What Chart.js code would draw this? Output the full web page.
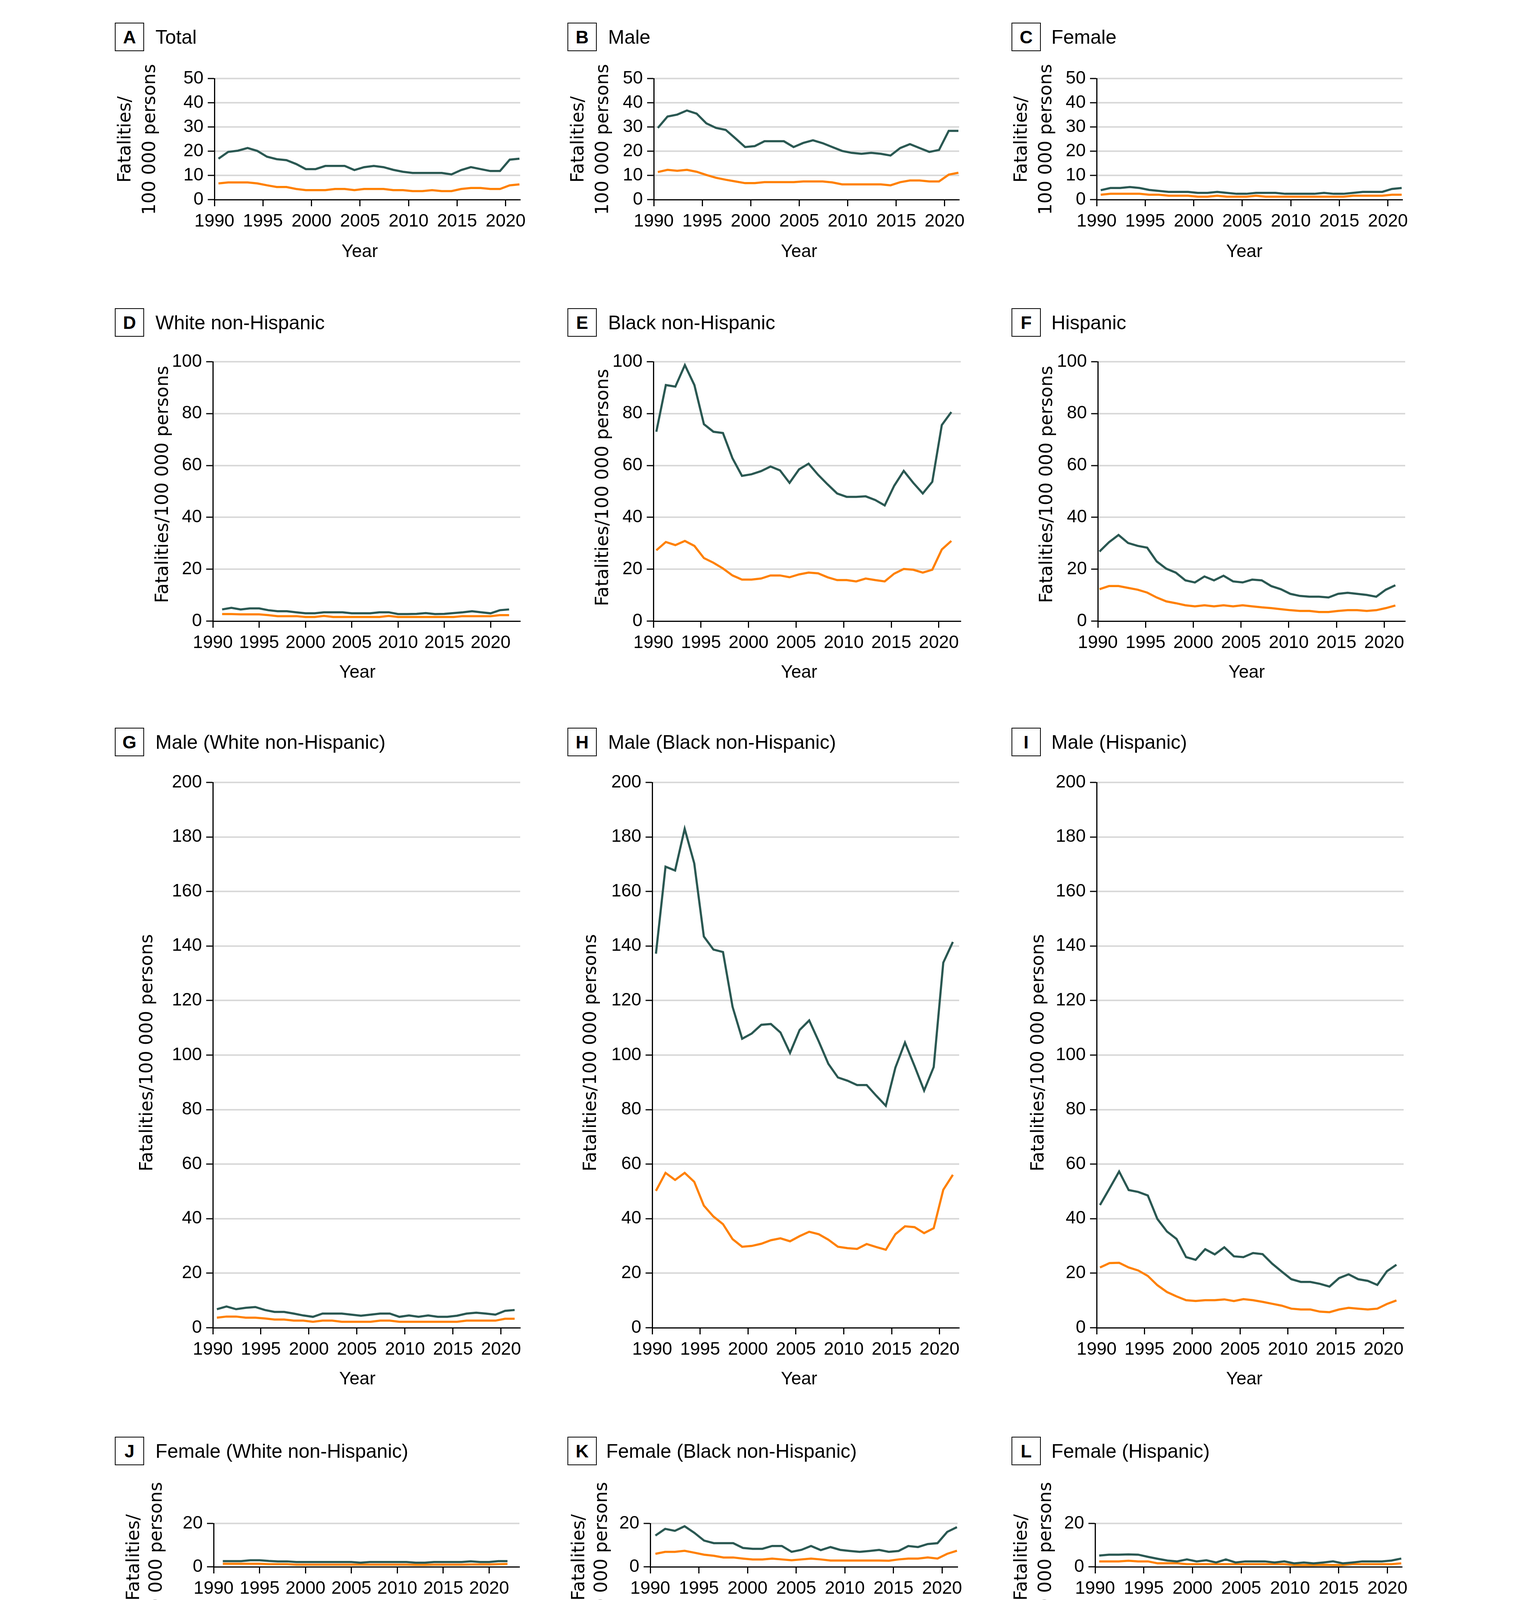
<!DOCTYPE html>
<html>
<head>
<meta charset="utf-8">
<script src="https://cdn.jsdelivr.net/npm/chart.js@4.4.0/dist/chart.umd.min.js"></script>
<style>
html,body{margin:0;padding:0;background:#fff;}
#page{position:relative;width:3892px;height:4799px;overflow:hidden;background:#fff;}
#page canvas{position:absolute;}
.box{position:absolute;box-sizing:border-box;width:75px;height:73px;border:2.5px solid #000;font-family:"Liberation Sans",Arial,sans-serif;font-weight:bold;font-size:46px;display:flex;align-items:center;justify-content:center;color:#000;}
.ttl{position:absolute;height:73px;display:flex;align-items:center;font-family:"Liberation Sans",Arial,sans-serif;font-size:50px;color:#000;white-space:nowrap;}
#legend{position:absolute;left:2602px;top:4503px;width:571px;height:150px;box-sizing:border-box;border:2.5px solid #000;}
.lg-line{position:absolute;left:31px;width:62px;height:5px;}
.lg-text{position:absolute;left:123px;font-family:"Liberation Sans",Arial,sans-serif;font-size:46px;color:#000;white-space:nowrap;line-height:56px;}
</style>
</head>
<body>
<div id="page"></div>
<script>
// ---------------- DATA ----------------
const years = [1990,1991,1992,1993,1994,1995,1996,1997,1998,1999,2000,2001,2002,2003,2004,2005,2006,2007,2008,2009,2010,2011,2012,2013,2014,2015,2016,2017,2018,2019,2020,2021];
const yearsMetro = [1999,2000,2001,2002,2003,2004,2005,2006,2007,2008,2009,2010,2011,2012,2013,2014,2015,2016,2017,2018,2019,2020];

const seriesNames = ['Maximum crude rate','Mean crude rate'];

const totalMax = [16.9,19.7,20.2,21.3,20.1,17.7,16.7,16.3,14.7,12.6,12.6,13.9,13.9,13.9,12.2,13.4,13.9,13.4,12.3,11.5,11.0,11.0,11.0,11.0,10.4,12.2,13.4,12.6,11.8,11.8,16.5,16.9];
const totalMean = [6.7,7.1,7.1,7.1,6.7,5.9,5.2,5.2,4.4,3.9,3.9,3.9,4.4,4.4,3.9,4.4,4.4,4.4,3.9,3.9,3.5,3.5,3.9,3.5,3.5,4.4,4.8,4.8,4.4,4.4,5.9,6.3];

const maleMax = [29.6,34.3,35.1,36.8,35.5,31.5,29.6,28.8,25.3,21.7,22.1,24.1,24.1,24.1,21.7,23.4,24.5,23.3,21.7,20.1,19.3,18.9,19.3,18.9,18.2,21.3,22.9,21.3,19.7,20.5,28.4,28.4];
const maleMean = [11.4,12.3,11.9,12.3,11.5,10.2,9.0,8.2,7.5,6.8,6.8,7.2,7.2,7.2,7.2,7.5,7.5,7.5,7.1,6.3,6.3,6.3,6.3,6.3,5.9,7.2,7.9,7.9,7.5,7.5,10.3,11.1];

const femaleMax = [3.9,4.8,4.8,5.2,4.8,4.0,3.6,3.2,3.2,3.2,2.8,2.8,3.2,2.8,2.4,2.4,2.8,2.8,2.8,2.4,2.4,2.4,2.4,2.8,2.4,2.4,2.8,3.2,3.2,3.2,4.4,4.8];
const femaleMean = [2.0,2.4,2.4,2.4,2.4,2.0,2.0,1.6,1.6,1.6,1.2,1.2,1.6,1.2,1.2,1.2,1.6,1.2,1.2,1.2,1.2,1.2,1.2,1.2,1.2,1.2,1.6,1.6,1.6,1.6,2.0,2.0];

const whiteMax = [4.5,5.1,4.5,4.9,4.9,4.2,3.8,3.8,3.4,3.0,3.0,3.4,3.4,3.4,3.0,3.0,3.0,3.4,3.4,2.7,2.7,2.8,3.1,2.7,2.8,3.1,3.4,3.8,3.4,3.0,4.2,4.5];
const whiteMean = [2.7,2.7,2.6,2.6,2.6,2.3,1.9,1.9,1.9,1.6,1.6,2.0,1.6,1.6,1.6,1.6,1.6,1.6,2.0,1.6,1.6,1.6,1.6,1.6,1.6,1.6,1.9,1.9,1.9,1.9,2.3,2.3];

const blackMax = [73.0,91.0,90.4,98.7,91.0,75.9,73.0,72.5,62.8,56.0,56.6,57.8,59.6,58.1,53.3,58.5,60.7,56.4,52.7,49.2,47.9,47.9,48.1,46.7,44.6,52.2,57.9,53.3,49.2,53.7,75.6,80.6];
const blackMean = [27.3,30.5,29.3,30.9,29.0,24.3,22.5,20.3,17.6,16.0,16.0,16.4,17.6,17.6,16.9,18.0,18.7,18.4,16.9,15.8,15.8,15.3,16.4,15.8,15.3,18.3,20.1,19.8,18.7,19.8,27.6,30.9];

const hispMax = [26.8,30.4,33.2,30.1,29.0,28.3,23.0,20.2,18.7,15.7,14.9,17.2,15.7,17.5,15.3,14.9,16.0,15.7,13.5,12.3,10.5,9.7,9.4,9.4,9.1,10.5,10.9,10.5,10.1,9.4,12.1,13.8];
const hispMean = [12.3,13.5,13.5,12.8,12.1,11.0,9.1,7.6,6.9,6.1,5.7,6.1,5.7,6.1,5.7,6.1,5.7,5.3,5.0,4.6,4.2,3.9,3.9,3.5,3.5,3.9,4.2,4.2,3.9,4.2,5.0,6.0];

const maleWhiteMax = [6.8,7.8,6.8,7.3,7.6,6.5,5.8,5.8,5.2,4.5,4.0,5.2,5.2,5.2,4.8,4.4,4.8,5.2,5.2,4.0,4.5,4.0,4.5,4.0,4.0,4.4,5.2,5.5,5.2,4.8,6.2,6.5];
const maleWhiteMean = [3.7,4.1,4.1,3.7,3.7,3.4,3.0,3.0,2.6,2.6,2.2,2.6,2.6,2.2,2.2,2.2,2.2,2.6,2.6,2.2,2.2,2.2,2.2,2.2,2.2,2.2,2.6,2.6,2.6,2.6,3.3,3.3];

const maleBlackMax = [137.2,169.1,167.7,183.0,170.3,143.5,138.7,137.8,117.7,106.0,107.9,111.1,111.4,108.3,100.8,109.2,112.7,105.0,96.8,91.8,90.6,89.0,89.0,85.1,81.4,95.4,104.6,96.0,87.0,95.6,133.9,141.5];
const maleBlackMean = [50.2,56.8,54.2,56.8,53.5,44.8,40.8,38.0,32.5,29.7,30.0,30.8,32.1,32.8,31.7,33.6,35.2,34.3,32.3,29.7,29.2,28.9,30.7,29.6,28.6,34.3,37.2,36.9,34.7,36.5,50.6,56.1];

const maleHispMax = [45.0,51.1,57.3,50.5,49.8,48.5,39.9,35.3,32.6,25.9,24.9,28.8,26.9,29.5,26.2,25.9,27.4,27.0,23.5,20.6,17.8,16.8,16.8,16.1,15.1,18.2,19.6,17.8,17.2,15.7,20.7,23.1];
const maleHispMean = [22.1,23.7,23.8,22.1,21.0,19.0,15.6,13.1,11.5,10.1,9.8,10.1,10.1,10.4,9.8,10.5,10.1,9.5,8.8,8.1,7.0,6.7,6.7,5.9,5.7,6.7,7.3,7.0,6.7,7.0,8.7,10.0];

const femWhiteMax = [2.6,2.6,2.6,3.0,3.0,2.7,2.5,2.5,2.2,2.2,2.2,2.2,2.2,2.2,2.2,1.9,2.2,2.2,2.2,2.2,2.2,1.9,1.9,2.2,2.2,2.2,2.2,2.5,2.2,2.2,2.6,2.6];
const femWhiteMean = [1.4,1.4,1.4,1.4,1.4,1.2,1.2,1.2,1.0,1.0,1.0,1.0,1.0,1.0,1.0,1.0,1.0,1.0,1.0,1.0,1.0,0.9,0.9,1.0,1.0,1.0,1.0,1.1,1.1,1.1,1.2,1.3];

const femBlackMax = [14.4,17.5,16.6,18.7,15.7,12.1,10.9,10.9,10.9,8.7,8.3,8.3,9.6,9.6,6.9,7.8,9.6,7.7,9.1,7.8,7.3,6.9,7.3,7.8,6.9,7.3,9.6,9.1,10.5,10.9,16.1,18.3];
const femBlackMean = [6.0,6.9,6.9,7.4,6.5,5.6,5.1,4.3,4.3,3.8,3.4,3.4,3.8,3.4,3.0,3.4,3.8,3.4,2.9,2.9,2.9,2.9,2.9,2.9,2.8,3.4,3.8,3.8,4.3,3.8,6.0,7.4];

const femHispMax = [5.2,5.6,5.6,5.7,5.6,4.6,3.7,2.9,2.5,3.4,2.5,3.0,2.0,3.4,2.0,2.5,2.5,2.5,2.0,2.5,1.6,2.0,1.6,2.0,2.5,1.6,2.0,2.5,2.5,2.5,2.9,3.8];
const femHispMean = [2.5,2.5,2.5,2.8,2.5,2.5,1.6,1.6,1.6,1.2,1.2,1.2,1.2,1.2,1.2,1.2,1.2,1.2,1.2,1.2,0.8,0.8,0.8,0.9,0.8,0.8,1.2,1.2,1.2,1.2,1.2,1.6];

const metroMax = [13.4,13.4,14.4,14.9,14.9,13.4,14.4,14.9,14.5,13.4,12.1,11.7,11.3,11.8,11.8,11.0,13.2,14.0,13.1,12.4,17.5,17.5];
const metroMean = [4.3,3.7,4.3,4.3,4.3,4.3,4.8,4.8,4.3,3.8,3.8,3.8,3.8,3.8,3.8,3.5,4.3,4.8,4.8,4.3,6.2,6.7];

const nonmetroMax = [6.3,6.3,7.3,6.3,6.3,6.8,5.6,5.9,6.3,6.3,6.8,6.3,6.3,6.3,5.9,5.4,7.3,7.4,8.0,9.0,11.4,11.5];
const nonmetroMean = [2.4,3.0,2.6,2.6,2.6,2.6,2.6,2.6,2.6,2.6,2.6,2.6,2.6,2.6,2.6,2.6,3.1,3.4,3.4,3.4,4.8,4.8];

const yTicks50 = [0,10,20,30,40,50];
const yTicks100 = [0,20,40,60,80,100];
const yTicks200 = [0,20,40,60,80,100,120,140,160,180,200];
const yTicks20 = [0,10,20];
const xTicksYear = [1990,1995,2000,2005,2010,2015,2020];
const xTicksMetro = [1999,2004,2009,2014,2019];

const yTitle2 = ['Fatalities/','100 000 persons'];
const yTitle1 = ['Fatalities/100 000 persons'];
const xTitle = 'Year';

// ---------------- STYLE / LAYOUT ----------------
const COL_MAX = '#2a5852';
const COL_MEAN = '#ff8000';
const LINE_W = 5.5;
const TICK_FONT = {family:'"Liberation Sans", Arial, sans-serif', size:46};

const panels = [
 {letter:'A', title:'Total', x:years, max:totalMax, mean:totalMean, yT:yTicks50, xT:xTicksYear, xMin:1990, xMax:2021.5, shift:0.42,
  plot:[549,1332,201,511], box:[294,58], tx:398, yt:{lines:yTitle2,x:322,y:357,lh:63}, yr:[921,645]},
 {letter:'B', title:'Male', x:years, max:maleMax, mean:maleMean, yT:yTicks50, xT:xTicksYear, xMin:1990, xMax:2021.5, shift:0.42,
  plot:[1674,2456,201,511], box:[1453,58], tx:1557, yt:{lines:yTitle2,x:1482,y:357,lh:63}, yr:[2046,645]},
 {letter:'C', title:'Female', x:years, max:femaleMax, mean:femaleMean, yT:yTicks50, xT:xTicksYear, xMin:1990, xMax:2021.5, shift:0.42,
  plot:[2808,3591,201,511], box:[2590,58], tx:2692, yt:{lines:yTitle2,x:2617,y:357,lh:63}, yr:[3186,645]},

 {letter:'D', title:'White non-Hispanic', x:years, max:whiteMax, mean:whiteMean, yT:yTicks100, xT:xTicksYear, xMin:1990, xMax:2023.2, shift:1.0,
  plot:[545,1332,926,1590], box:[294,789], tx:398, yt:{lines:yTitle1,x:418,y:1240,lh:60}, yr:[915,1722]},
 {letter:'E', title:'Black non-Hispanic', x:years, max:blackMax, mean:blackMean, yT:yTicks100, xT:xTicksYear, xMin:1990, xMax:2022.3, shift:0.31,
  plot:[1673,2460,926,1590], box:[1453,789], tx:1557, yt:{lines:yTitle1,x:1545,y:1248,lh:60}, yr:[2046,1722]},
 {letter:'F', title:'Hispanic', x:years, max:hispMax, mean:hispMean, yT:yTicks100, xT:xTicksYear, xMin:1990, xMax:2022.2, shift:0.17,
  plot:[2811,3598,926,1590], box:[2590,789], tx:2692, yt:{lines:yTitle1,x:2682,y:1240,lh:60}, yr:[3192,1722]},

 {letter:'G', title:'Male (White non-Hispanic)', x:years, max:maleWhiteMax, mean:maleWhiteMean, yT:yTicks200, xT:xTicksYear, xMin:1990, xMax:2022.0, shift:0.42,
  plot:[545,1332,2003,3399], box:[294,1863], tx:398, yt:{lines:yTitle1,x:378,y:2695,lh:60}, yr:[915,3531]},
 {letter:'H', title:'Male (Black non-Hispanic)', x:years, max:maleBlackMax, mean:maleBlackMean, yT:yTicks200, xT:xTicksYear, xMin:1990, xMax:2022.05, shift:0.39,
  plot:[1670,2456,2003,3399], box:[1453,1863], tx:1557, yt:{lines:yTitle1,x:1514,y:2695,lh:60}, yr:[2046,3531]},
 {letter:'I', title:'Male (Hispanic)', x:years, max:maleHispMax, mean:maleHispMean, yT:yTicks200, xT:xTicksYear, xMin:1990, xMax:2022.1, shift:0.35,
  plot:[2808,3594,2003,3399], box:[2590,1863], tx:2692, yt:{lines:yTitle1,x:2660,y:2695,lh:60}, yr:[3186,3531]},

 {letter:'J', title:'Female (White non-Hispanic)', x:years, max:femWhiteMax, mean:femWhiteMean, yT:yTicks20, xT:xTicksYear, xMin:1990, xMax:2023.3, shift:1.0,
  plot:[547,1330,3900,4011], box:[294,3678], tx:398, yt:{lines:yTitle2,x:344,y:3987,lh:58}, yr:[915,4138]},
 {letter:'K', title:'Female (Black non-Hispanic)', x:years, max:femBlackMax, mean:femBlackMean, yT:yTicks20, xT:xTicksYear, xMin:1990, xMax:2021.6, shift:0.53,
  plot:[1665,2452,3900,4011], box:[1453,3678], tx:1552, yt:{lines:yTitle2,x:1484,y:3987,lh:58}, yr:[1926,4138]},
 {letter:'L', title:'Female (Hispanic)', x:years, max:femHispMax, mean:femHispMean, yT:yTicks20, xT:xTicksYear, xMin:1990, xMax:2021.5, shift:0.42,
  plot:[2804,3590,3900,4011], box:[2590,3678], tx:2692, yt:{lines:yTitle2,x:2617,y:3987,lh:62}, yr:[3070,4138]},

 {letter:'M', title:'Metropolitan', x:yearsMetro, max:metroMax, mean:metroMean, yT:yTicks20, xT:xTicksMetro, xMin:1999, xMax:2020.9, shift:0.52,
  plot:[547,1090,4496,4607], box:[294,4275], tx:398, yt:{lines:yTitle2,x:344,y:4590,lh:58}, yr:[784,4737]},
 {letter:'N', title:'Nonmetropolitan', x:yearsMetro, max:nonmetroMax, mean:nonmetroMean, yT:yTicks20, xT:xTicksMetro, xMin:1999, xMax:2020.7, shift:0.37,
  plot:[1680,2220,4496,4607], box:[1453,4275], tx:1557, yt:{lines:yTitle2,x:1478,y:4590,lh:61}, yr:[1917,4737]}
];

// ---------------- RENDER ----------------
const axisTitles = {
  id:'axisTitles',
  afterDraw(chart, args, o){
    const ctx = chart.ctx;
    ctx.save();
    ctx.fillStyle = '#000';
    ctx.textAlign = 'center';
    ctx.textBaseline = 'middle';
    ctx.font = '46px "DejaVu Sans", Verdana, sans-serif';
    o.yLines.forEach((t,i)=>{
      ctx.save();
      ctx.translate(o.yx + i*o.lh, o.yy);
      ctx.rotate(-Math.PI/2);
      ctx.fillText(t,0,0);
      ctx.restore();
    });
    ctx.font = '46px "Liberation Sans", Arial, sans-serif';
    ctx.fillText(o.xText, o.xx, o.xy);
    ctx.restore();
  }
};

const page = document.getElementById('page');
const PAD_L = 300, PAD_R = 70;

panels.forEach(p=>{
  const [pl,pr,pt,pb] = p.plot;
  const cl = pl - PAD_L;
  const ct = Math.min(pt - 60, p.yt.y - 240);
  const cr = pr + PAD_R;
  const cb = Math.max(p.yr[1] + 50, p.yt.y + 240);
  const W = cr - cl, H = cb - ct;
  const padTop = pt - ct;

  const box = document.createElement('div');
  box.className = 'box'; box.textContent = p.letter;
  box.style.left = p.box[0]+'px'; box.style.top = p.box[1]+'px';
  page.appendChild(box);
  const ttl = document.createElement('div');
  ttl.className = 'ttl'; ttl.textContent = p.title;
  ttl.style.left = p.tx+'px'; ttl.style.top = p.box[1]+'px';
  page.appendChild(ttl);

  const cv = document.createElement('canvas');
  cv.width = W; cv.height = H;
  cv.style.left = cl+'px'; cv.style.top = ct+'px';
  cv.style.width = W+'px'; cv.style.height = H+'px';
  page.appendChild(cv);

  const mk = (arr)=> p.x.map((yr,i)=>({x: yr + p.shift, y: arr[i]}));

  new Chart(cv, {
    type:'line',
    data:{datasets:[
      {label:seriesNames[0], data:mk(p.max), borderColor:COL_MAX, borderWidth:LINE_W, pointRadius:0, tension:0, fill:false},
      {label:seriesNames[1], data:mk(p.mean), borderColor:COL_MEAN, borderWidth:LINE_W, pointRadius:0, tension:0, fill:false}
    ]},
    options:{
      responsive:false, animation:false, devicePixelRatio:1,
      layout:{padding:{top:padTop, right:PAD_R, left:0, bottom:0}},
      plugins:{
        legend:{display:false}, tooltip:{enabled:false},
        axisTitles:{yLines:p.yt.lines, yx:p.yt.x - cl, yy:p.yt.y - ct, lh:p.yt.lh, xText:xTitle, xx:p.yr[0]-cl, xy:p.yr[1]-ct}
      },
      scales:{
        x:{
          type:'linear', min:p.xMin, max:p.xMax,
          afterBuildTicks:s=>{ s.ticks = p.xT.map(v=>({value:v})); },
          afterFit:s=>{ s.height = cb - pb; },
          ticks:{autoSkip:false, maxRotation:0, minRotation:0, padding:12, color:'#000', font:TICK_FONT, callback:v=>String(v)},
          grid:{drawOnChartArea:false, drawTicks:true, tickLength:17, tickColor:'#000', tickWidth:3},
          border:{display:true, color:'#000', width:3}
        },
        y:{
          type:'linear', min:p.yT[0], max:p.yT[p.yT.length-1],
          afterBuildTicks:s=>{ s.ticks = p.yT.map(v=>({value:v})); },
          afterFit:s=>{ s.width = PAD_L; },
          ticks:{padding:11, color:'#000', font:TICK_FONT, callback:v=>String(v)},
          grid:{color:c=> (c.tick && c.tick.value===0) ? 'rgba(0,0,0,0)' : '#d9d9d9', lineWidth:4, drawTicks:true, tickLength:17, tickColor:'#000', tickWidth:3},
          border:{display:true, color:'#000', width:3}
        }
      }
    },
    plugins:[axisTitles]
  });
});

// legend
const lg = document.createElement('div');
lg.id = 'legend';
[[seriesNames[0],COL_MAX,46],[seriesNames[1],COL_MEAN,104]].forEach(([name,col,cy])=>{
  const ln = document.createElement('div');
  ln.className = 'lg-line'; ln.style.background = col; ln.style.top = (cy-2.5)+'px';
  lg.appendChild(ln);
  const tx = document.createElement('div');
  tx.className = 'lg-text'; tx.textContent = name; tx.style.top = (cy-28)+'px';
  lg.appendChild(tx);
});
page.appendChild(lg);
</script>
</body>
</html>
